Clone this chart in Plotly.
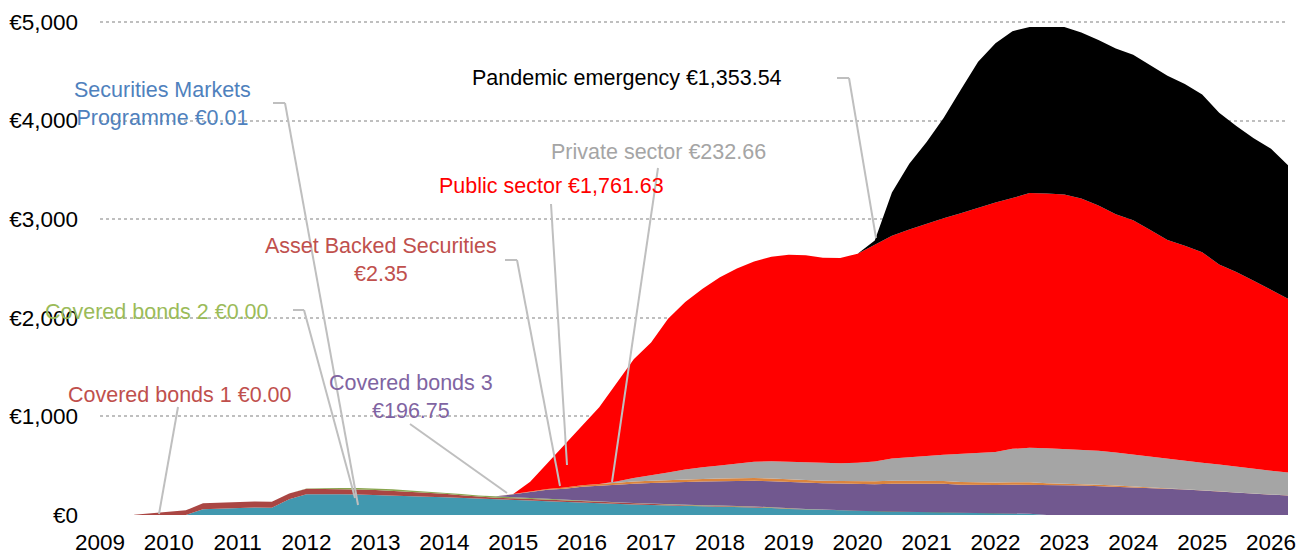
import pandas as pd
import plotly.graph_objects as go

# ---------------- data (EUR bn, quarterly holdings) ----------------
dates = pd.date_range("2009-07-01", "2026-04-01", freq="QS")

smp = [0, 0, 0, 0, 59, 64, 74, 77, 74, 160, 211, 214, 211, 209, 205, 200, 192, 186, 180, 172,
       165, 158, 152, 146, 140, 132, 124, 118, 112, 106, 101, 97, 93, 90, 87, 85, 80, 72, 62, 57,
       53, 50, 42, 37, 34, 33, 33, 30, 20, 17, 17, 16, 12, 0, 0, 0, 0, 0, 0, 0,
       0, 0, 0, 0, 0, 0, 0, 0.01]
cb1 = [2, 17, 28, 47, 60, 60, 60, 60, 60, 58, 55, 52, 50, 50, 48, 45, 42, 38, 35, 28,
       20, 17, 17, 16, 15, 14, 12, 11, 10, 9, 8, 7, 6, 5, 5, 4, 3, 2, 2, 1,
       1, 0.5, 0.3, 0, 0, 0, 0, 0, 0, 0, 0, 0, 0, 0, 0, 0, 0, 0, 0, 0,
       0, 0, 0, 0, 0, 0, 0, 0]
cb2 = [0, 0, 0, 0, 0, 0, 0, 0, 0, 0, 3, 8, 12, 15, 16, 16, 15, 14, 14, 13,
       12, 12, 11, 10, 10, 9, 8, 8, 7, 7, 6, 6, 5, 5, 5, 5, 4, 4, 4, 4,
       3, 3, 2, 1, 0.5, 0.3, 0, 0, 0, 0, 0, 0, 0, 0, 0, 0, 0, 0, 0, 0,
       0, 0, 0, 0, 0, 0, 0, 0]
cb3 = [0, 0, 0, 0, 0, 0, 0, 0, 0, 0, 0, 0, 0, 0, 0, 0, 0, 0, 0, 0,
       0, 2, 30, 60, 90, 112, 143, 160, 180, 195, 210, 222, 232, 240, 246, 252, 260, 264, 266, 266,
       266, 267, 270, 275, 283, 286, 287, 288, 288, 287, 287, 290, 295, 302, 302, 300, 294, 288, 281, 275,
       268, 258, 248, 237, 223, 212, 204, 196.75]
abs_ = [0, 0, 0, 0, 0, 0, 0, 0, 0, 0, 0, 0, 0, 0, 0, 0, 0, 0, 0, 0,
        0, 0, 2, 5, 8, 12, 15, 18, 20, 22, 23, 24, 25, 25, 26, 27, 28, 27, 27, 26,
        25, 25, 27, 29, 30, 29, 28, 27, 27, 27, 26, 25, 24, 20, 17, 15, 13, 11, 9, 8,
        7, 6, 5, 4, 4, 3, 3, 2.35]
cspp = [0, 0, 0, 0, 0, 0, 0, 0, 0, 0, 0, 0, 0, 0, 0, 0, 0, 0, 0, 0,
        0, 0, 0, 0, 0, 0, 0, 0, 10, 35, 52, 75, 100, 120, 132, 150, 165, 175, 178, 180,
        178, 180, 188, 200, 225, 240, 250, 265, 285, 300, 310, 340, 350, 355, 352, 345, 345, 335, 322, 310,
        298, 288, 278, 270, 262, 252, 242, 232.66]
pspp = [0, 0, 0, 0, 0, 0, 0, 0, 0, 0, 0, 0, 0, 0, 0, 0, 0, 0, 0, 0,
        0, 0, 0, 99, 262, 431, 603, 779, 991, 1206, 1350, 1559, 1699, 1810, 1909, 1977, 2032, 2076, 2101, 2101,
        2084, 2080, 2121, 2203, 2260, 2307, 2357, 2400, 2440, 2484, 2530, 2544, 2584, 2583, 2579, 2550, 2488, 2416, 2378, 2297,
        2217, 2178, 2134, 2029, 1976, 1908, 1836, 1761.63]
pepp = [0, 0, 0, 0, 0, 0, 0, 0, 0, 0, 0, 0, 0, 0, 0, 0, 0, 0, 0, 0,
        0, 0, 0, 0, 0, 0, 0, 0, 0, 0, 0, 0, 0, 0, 0, 0, 0, 0, 0, 0,
        0, 0, 0, 40, 439, 666, 827, 1015, 1253, 1481, 1613, 1692, 1684, 1689, 1699, 1682, 1677, 1681, 1678, 1670,
        1665, 1640, 1600, 1540, 1480, 1445, 1430, 1353.54]

series_names = ["Securities Markets Programme", "Covered bonds 1", "Covered bonds 2", "Covered bonds 3",
                "Asset Backed Securities", "Private sector", "Public sector", "Pandemic emergency"]
series_values = [smp, cb1, cb2, cb3, abs_, cspp, pspp, pepp]
fill_colors = ["#4198AF", "#AA4643", "#89A54E", "#71588F", "#DB843D", "#A5A5A5", "#FF0000", "#000000"]

year_ticks = list(range(2009, 2027))
year_labels = [str(y) for y in year_ticks]
y_ticks = [0, 1000, 2000, 3000, 4000, 5000]
y_labels = ["€0", "€1,000", "€2,000", "€3,000", "€4,000", "€5,000"]

# ---------------- figure ----------------
W, H = 1315, 559
L, R, T, B = 100, 27, 20, 44
PW, PH = W - L - R, H - T - B
FONT = "Liberation Sans, Arial, sans-serif"


def px(x):
    return (x - L) / PW


def py(y):
    return (H - B - y) / PH


fig = go.Figure()
for name, vals, col in zip(series_names, series_values, fill_colors):
    fig.add_trace(go.Scatter(
        x=dates, y=vals, name=name, mode="lines", stackgroup="one",
        line=dict(width=0, color=col), fillcolor=col, hoverinfo="x+y+name"))

# labels: text, color, center pixel
labels = [
    ("Securities Markets<br>Programme €0.01", "#4F81BD", 162, 104),
    ("Covered bonds 2 €0.00", "#9BBB59", 157, 312),
    ("Covered bonds 1 €0.00", "#C0504D", 180, 395),
    ("Covered bonds 3<br>€196.75", "#8064A2", 411, 397),
    ("Asset Backed Securities<br>€2.35", "#C0504D", 381, 260),
    ("Public sector €1,761.63", "#FF0000", 551, 186),
    ("Private sector €232.66", "#A5A5A5", 658, 152),
    ("Pandemic emergency €1,353.54", "#000000", 627, 78),
]
annotations = []
for txt, col, cx, cy in labels:
    annotations.append(dict(
        text=txt, x=px(cx), y=py(cy), xref="paper", yref="paper",
        xanchor="center", yanchor="middle", showarrow=False,
        font=dict(family=FONT, size=21.5, color=col), align="center"))

leaders = [
    [(273, 103), (285, 103), (358, 505)],
    [(293, 310), (304, 310), (355, 498)],
    [(178, 407), (159, 514)],
    [(410, 424), (507, 493)],
    [(505, 260), (517, 260), (560, 486)],
    [(551, 204), (567, 465)],
    [(658, 168), (612, 482)],
    [(837, 78), (849, 78), (876, 238)],
]
shapes = []
for pts in leaders:
    for (x0, y0), (x1, y1) in zip(pts[:-1], pts[1:]):
        shapes.append(dict(type="line", xref="paper", yref="paper",
                           x0=px(x0), y0=py(y0), x1=px(x1), y1=py(y1),
                           line=dict(color="#BFBFBF", width=2)))

fig.update_layout(
    width=W, height=H,
    margin=dict(l=L, r=R, t=T, b=B),
    paper_bgcolor="white", plot_bgcolor="white",
    showlegend=False,
    font=dict(family=FONT, size=22, color="#000000"),
    annotations=annotations,
    shapes=shapes,
    xaxis=dict(
        type="date", range=["2009-01-01", "2026-04-01"], automargin=False,
        tickvals=[f"{y}-01-01" for y in year_ticks], ticktext=year_labels,
        showgrid=False, zeroline=False, showline=False, ticks="",
        tickfont=dict(size=22.5, color="#000000"), ticklabelstandoff=11),
    yaxis=dict(
        range=[0, 5020], tickvals=y_ticks, ticktext=y_labels, automargin=False,
        showgrid=True, gridcolor="#BFBFBF", griddash="dot", gridwidth=1.5,
        zeroline=False, showline=False, ticks="",
        tickfont=dict(size=22.5, color="#000000"), ticklabelstandoff=21),
)

fig.write_html("out.html")
